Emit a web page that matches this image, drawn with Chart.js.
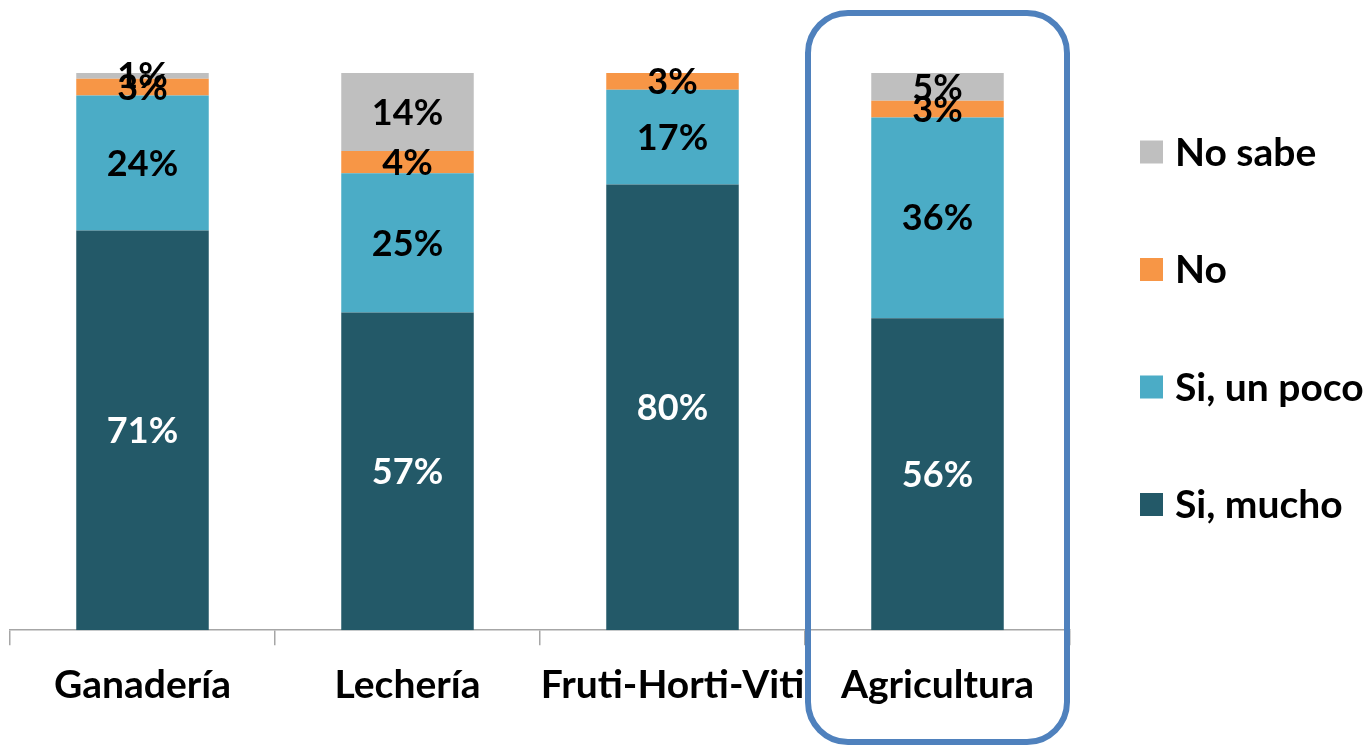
<!DOCTYPE html>
<html>
<head>
<meta charset="utf-8">
<script src="https://cdn.jsdelivr.net/npm/chart.js@4.4.1/dist/chart.umd.min.js"></script>
<style>
    html, body { margin: 0; padding: 0; background: #ffffff; }
    #wrap { width: 1367px; height: 748px; }
</style>
</head>
<body>
<div id="wrap"><canvas id="chart" width="1367" height="748"></canvas></div>
<script>
// --- data ---
const categories = ['Ganadería', 'Lechería', 'Fruti-Horti-Viti', 'Agricultura'];
const siMucho   = [71, 57, 80, 56];
const siUnPoco  = [24, 25, 17, 36];
const no        = [3, 4, 3, 3];
const noSabe    = [1, 14, 0, 5];
const highlightIndex = 3; // Agricultura is framed

const FONT = "'Lato', 'Open Sans', sans-serif";

// 100% stacked: heights are each answer's share of its category
function shares(values) {
    return values.map((v, i) => {
        const total = siMucho[i] + siUnPoco[i] + no[i] + noSabe[i];
        return v / total * 100;
    });
}

const seriesList = [
    { label: 'Si, mucho',   raw: siMucho,  color: '#235968', text: '#ffffff' },
    { label: 'Si, un poco', raw: siUnPoco, color: '#4bacc6', text: '#000000' },
    { label: 'No',          raw: no,       color: '#f79646', text: '#000000' },
    { label: 'No sabe',     raw: noSabe,   color: '#bfbfbf', text: '#000000' }
];

/* --- value labels inside each segment --- */
const segmentLabels = {
    id: 'segmentLabels',
    afterDatasetsDraw(chart) {
        const ctx = chart.ctx;
        ctx.save();
        ctx.font = 'bold 36px ' + FONT;
        ctx.textAlign = 'center';
        ctx.textBaseline = 'middle';
        chart.data.datasets.forEach((ds, di) => {
            const meta = chart.getDatasetMeta(di);
            meta.data.forEach((bar, i) => {
                const v = ds.rawValues[i];
                if (!v) return;
                ctx.fillStyle = ds.textColor;
                ctx.fillText(v + '%', bar.x, (bar.y + bar.base) / 2 + 1);
            });
        });
        ctx.restore();
    }
};

/* --- legend on the right, top entry first --- */
const sideLegend = {
    id: 'sideLegend',
    afterDraw(chart) {
        const ctx = chart.ctx;
        const boxX = 1140, box = 23, firstY = 152, step = 117.5;
        ctx.save();
        ctx.font = 'bold 39px ' + FONT;
        ctx.textBaseline = 'middle';
        ctx.textAlign = 'left';
        const items = chart.data.datasets.slice().reverse();
        items.forEach((ds, k) => {
            const y = firstY + k * step;
            ctx.fillStyle = ds.backgroundColor;
            ctx.fillRect(boxX, y - box / 2, box, box);
            ctx.fillStyle = '#000000';
            ctx.fillText(ds.label, boxX + box + 12, y + 1);
        });
        ctx.restore();
    }
};

/* --- rounded frame round the highlighted category --- */
const frame = {
    id: 'frame',
    afterDraw(chart) {
        const x = chart.scales.x;
        const half = (x.getPixelForValue(1) - x.getPixelForValue(0)) / 2;
        const cx = x.getPixelForValue(highlightIndex);
        const ctx = chart.ctx;
        ctx.save();
        ctx.strokeStyle = '#4f81bd';
        ctx.lineWidth = 6;
        ctx.beginPath();
        ctx.roundRect(cx - half + 3, 13, half * 2 - 6, 729, 40);
        ctx.stroke();
        ctx.restore();
    }
};

const ctx = document.getElementById('chart').getContext('2d');
new Chart(ctx, {
    type: 'bar',
    data: {
        labels: categories,
        datasets: seriesList.map(s => ({
            label: s.label,
            data: shares(s.raw),
            rawValues: s.raw,
            textColor: s.text,
            backgroundColor: s.color,
            borderWidth: 0,
            categoryPercentage: 1,
            barPercentage: 0.5
        }))
    },
    options: {
        responsive: false,
        animation: false,
        devicePixelRatio: 1,
        layout: { padding: { left: 10, right: 297, top: 73, bottom: 22 } },
        plugins: {
            legend: { display: false },
            tooltip: { enabled: false }
        },
        scales: {
            x: {
                stacked: true,
                border: { display: true, color: '#a6a6a6', width: 1.5 },
                grid: {
                    display: true,
                    offset: true,
                    drawOnChartArea: false,
                    drawTicks: true,
                    tickLength: 15,
                    color: '#a6a6a6',
                    lineWidth: 1.5
                },
                ticks: {
                    color: '#000000',
                    padding: 17,
                    maxRotation: 0,
                    autoSkip: false,
                    font: { family: FONT, size: 39, weight: 'bold' }
                }
            },
            y: {
                stacked: true,
                display: false,
                min: 0,
                max: 100
            }
        }
    },
    plugins: [segmentLabels, sideLegend, frame]
});
</script>
</body>
</html>
